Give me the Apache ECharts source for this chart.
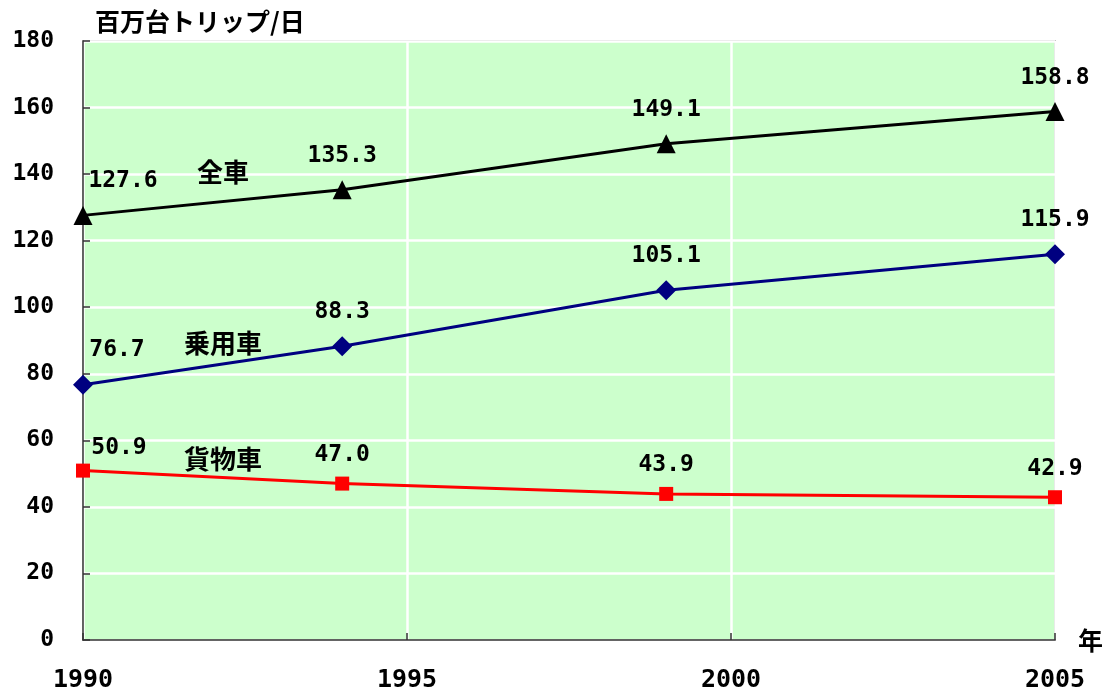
<!DOCTYPE html>
<html>
<head>
<meta charset="utf-8">
<script src="https://cdn.jsdelivr.net/npm/echarts@6/dist/echarts.min.js"></script>
<style>
html,body{margin:0;padding:0;background:#fff;}
#main{width:1106px;height:693px;}
</style>
</head>
<body>
<div id="main"></div>
<script>
// 調査年
const years = [1990, 1994, 1999, 2005];
// 百万台トリップ/日
const totalTrips = [127.6, 135.3, 149.1, 158.8];
const carTrips = [76.7, 88.3, 105.1, 115.9];
const freightTrips = [50.9, 47.0, 43.9, 42.9];

// 系列名ラベルの位置（データ座標）
const seriesNames = ['全車', '乗用車', '貨物車'];
const nameAnchors = [[1992.16, 140.7], [1992.16, 89.1], [1992.16, 54.3]];

const monoFont = '"DejaVu Sans Mono", monospace';
const jpFont = '"Noto Sans CJK JP", sans-serif';

function pairs(vals, firstOffset) {
  return vals.map((v, i) => {
    const d = { value: [years[i], v] };
    if (i === 0) d.label = { offset: firstOffset };
    return d;
  });
}

function nameMark(idx) {
  return {
    symbol: 'circle',
    symbolSize: 1,
    silent: true,
    itemStyle: { color: 'rgba(0,0,0,0)' },
    label: {
      show: true,
      position: 'inside',
      formatter: seriesNames[idx],
      fontFamily: jpFont,
      fontWeight: 'bold',
      fontSize: 26,
      color: '#000'
    },
    data: [{ coord: nameAnchors[idx] }]
  };
}

const labelBase = {
  show: true,
  position: 'top',
  distance: 13,
  fontFamily: monoFont,
  fontWeight: 'bold',
  fontSize: 23,
  color: '#000',
  formatter: p => p.value[1].toFixed(1)
};

const chart = echarts.init(document.getElementById('main'), null, { renderer: 'canvas' });
chart.setOption({
  animation: false,
  backgroundColor: '#fff',
  grid: {
    left: 83, top: 41, width: 972, height: 600,
    show: true,
    backgroundColor: '#CCFFCC',
    borderColor: '#999',
    borderWidth: 1.5
  },
  xAxis: {
    type: 'value',
    min: 1990, max: 2005, interval: 5,
    name: '年',
    nameLocation: 'end',
    nameGap: 23,
    nameTextStyle: {
      fontFamily: jpFont, fontWeight: 'bold', fontSize: 25, color: '#000',
      padding: [18, 0, 0, 0]
    },
    axisLine: { show: true, lineStyle: { color: '#333', width: 1.5 } },
    axisTick: { show: true, inside: true, length: 7, lineStyle: { color: '#333', width: 1.5 } },
    axisLabel: {
      margin: 28,
      fontFamily: monoFont, fontWeight: 'bold', fontSize: 25, color: '#000',
      formatter: v => String(v)
    },
    splitLine: { show: true, lineStyle: { color: '#fff', width: 2.5 } }
  },
  yAxis: {
    type: 'value',
    min: 0, max: 180, interval: 20,
    name: '百万台トリップ/日',
    nameLocation: 'end',
    nameGap: 7,
    nameTextStyle: {
      fontFamily: jpFont, fontWeight: 'bold', fontSize: 25, color: '#000',
      align: 'left', verticalAlign: 'bottom',
      padding: [0, 0, 0, 12]
    },
    axisLine: { show: true, lineStyle: { color: '#333', width: 1.5 } },
    axisTick: { show: true, inside: true, length: 7, lineStyle: { color: '#333', width: 1.5 } },
    axisLabel: {
      margin: 29,
      fontFamily: monoFont, fontWeight: 'bold', fontSize: 23, color: '#000'
    },
    splitLine: { show: true, lineStyle: { color: '#fff', width: 2.5 } }
  },
  series: [
    {
      name: '全車',
      type: 'line',
      data: pairs(totalTrips, [40, 0]),
      symbol: 'triangle',
      symbolSize: 19,
      itemStyle: { color: '#000' },
      lineStyle: { color: '#000', width: 3 },
      label: labelBase,
      markPoint: nameMark(0),
      z: 3
    },
    {
      name: '乗用車',
      type: 'line',
      data: pairs(carTrips, [34, 0]),
      symbol: 'diamond',
      symbolSize: 20,
      itemStyle: { color: '#000080' },
      lineStyle: { color: '#000080', width: 3 },
      label: labelBase,
      markPoint: nameMark(1),
      z: 3
    },
    {
      name: '貨物車',
      type: 'line',
      data: pairs(freightTrips, [36, 6]),
      symbol: 'rect',
      symbolSize: 14,
      itemStyle: { color: '#FF0000' },
      lineStyle: { color: '#FF0000', width: 3 },
      label: Object.assign({}, labelBase, { distance: 10 }),
      markPoint: nameMark(2),
      z: 3
    }
  ]
});
</script>
</body>
</html>
